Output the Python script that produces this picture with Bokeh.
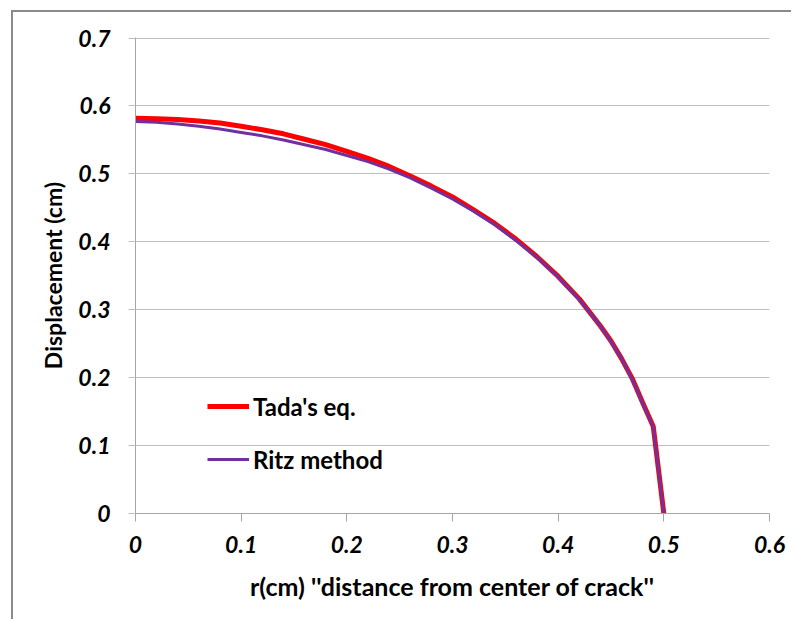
from bokeh.plotting import figure
from bokeh.models import Range1d, Legend, LegendItem, FixedTicker
from bokeh.embed import file_html
from bokeh.resources import INLINE

# Data
r_cm = [0.00, 0.02, 0.04, 0.06, 0.08, 0.10, 0.12, 0.14, 0.16, 0.18, 0.20,
        0.22, 0.24, 0.26, 0.28, 0.30, 0.32, 0.34, 0.36, 0.38, 0.40, 0.42,
        0.44, 0.45, 0.46, 0.47, 0.48, 0.49, 0.50]
tada = [0.582, 0.581, 0.580, 0.578, 0.575, 0.570, 0.565, 0.559, 0.551, 0.543,
        0.533, 0.523, 0.511, 0.497, 0.482, 0.466, 0.447, 0.427, 0.404, 0.378,
        0.349, 0.316, 0.276, 0.254, 0.228, 0.199, 0.163, 0.128, 0.000]
ritz = [0.577, 0.576, 0.5735, 0.570, 0.566, 0.561, 0.556, 0.550, 0.543, 0.536,
        0.527, 0.518, 0.507, 0.494, 0.479, 0.463, 0.445, 0.425, 0.402, 0.377,
        0.348, 0.315, 0.276, 0.253, 0.228, 0.198, 0.162, 0.127, 0.000]
x_ticks = [0, 0.1, 0.2, 0.3, 0.4, 0.5, 0.6]
x_tick_labels = ["0", "0.1", "0.2", "0.3", "0.4", "0.5", "0.6"]
y_ticks = [0, 0.1, 0.2, 0.3, 0.4, 0.5, 0.6, 0.7]
y_tick_labels = ["0", "0.1", "0.2", "0.3", "0.4", "0.5", "0.6", "0.7"]
series_names = ["Tada's eq.", "Ritz method"]
x_title = "r(cm) ''distance from center of crack''"
y_title = "Displacement (cm)"

FONT = "Lato"
AX = "#a6a6a6"

p = figure(width=780, height=609, output_backend="svg", toolbar_location=None,
           x_range=Range1d(0, 0.6), y_range=Range1d(0, 0.7008),
           min_border_left=122, min_border_right=24, min_border_top=25,
           min_border_bottom=108)
p.styles = {"margin-left": "11px", "margin-top": "10px",
            "border-left": "2px solid #8a8a8a", "border-top": "2px solid #8a8a8a",
            "border-right": "none", "border-bottom": "none"}
p.outline_line_color = None
p.background_fill_color = "white"
p.border_fill_color = "white"

r1 = p.line(r_cm, tada, line_color="#ff0000", line_width=5)
r2 = p.line(r_cm, ritz, line_color="#7030a0", line_width=3)

p.xgrid.visible = False
p.ygrid.ticker = FixedTicker(ticks=y_ticks)
p.ygrid.grid_line_color = "#bfbfbf"
p.ygrid.grid_line_width = 1

xa = p.xaxis[0]
xa.ticker = FixedTicker(ticks=x_ticks)
xa.major_label_overrides = {t: l for t, l in zip(x_ticks, x_tick_labels)}
xa.axis_line_color = AX
xa.major_tick_line_color = AX
xa.major_tick_in = 0
xa.major_tick_out = 8
xa.minor_tick_line_color = None
xa.major_label_text_font = FONT
xa.major_label_text_font_style = "bold italic"
xa.major_label_text_font_size = "23px"
xa.major_label_text_color = "black"
xa.major_label_standoff = 14
xa.axis_label = x_title
xa.axis_label_text_font = FONT
xa.axis_label_text_font_style = "bold"
xa.axis_label_text_font_size = "25px"
xa.axis_label_text_color = "black"
xa.axis_label_standoff = 15

ya = p.yaxis[0]
ya.ticker = FixedTicker(ticks=y_ticks)
ya.major_label_overrides = {t: l for t, l in zip(y_ticks, y_tick_labels)}
ya.axis_line_color = AX
ya.major_tick_line_color = "#bfbfbf"
ya.major_tick_in = 0
ya.major_tick_out = 7
ya.minor_tick_line_color = None
ya.major_label_text_font = FONT
ya.major_label_text_font_style = "bold italic"
ya.major_label_text_font_size = "23px"
ya.major_label_text_color = "black"
ya.major_label_standoff = 18
ya.axis_label = y_title
ya.axis_label_text_font = FONT
ya.axis_label_text_font_style = "bold"
ya.axis_label_text_font_size = "23px"
ya.axis_label_text_color = "black"
ya.axis_label_standoff = 8

legend = Legend(items=[LegendItem(label=series_names[0], renderers=[r1]),
                       LegendItem(label=series_names[1], renderers=[r2])],
                location=(72, 39), padding=0, margin=0, spacing=23,
                glyph_width=42, glyph_height=30, label_height=30,
                label_standoff=4,
                label_text_font=FONT, label_text_font_style="bold",
                label_text_font_size="24px", label_text_color="black",
                border_line_color=None, background_fill_alpha=0)
p.add_layout(legend, "center")

open("out.html", "w").write(file_html(p, INLINE))
